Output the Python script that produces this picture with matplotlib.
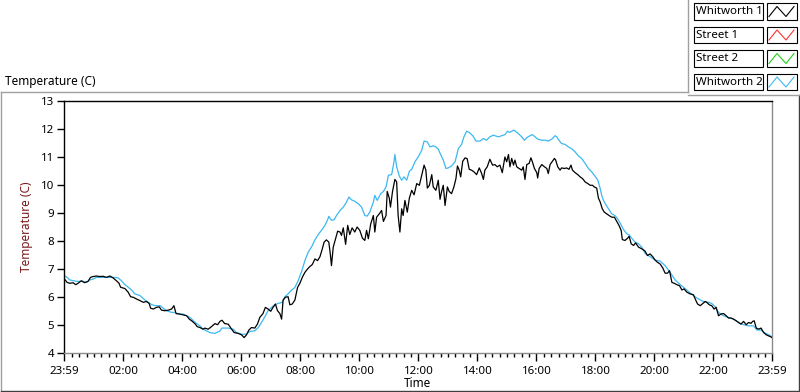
import numpy as np
import matplotlib
matplotlib.use("Agg")
import matplotlib.pyplot as plt
from matplotlib.patches import Rectangle
from matplotlib.lines import Line2D

plt.rcParams['font.family'] = ['Noto Sans', 'DejaVu Sans']

# ---------------- data ----------------
series_names = ["Whitworth 1", "Street 1", "Street 2", "Whitworth 2"]
series_colors = ["#000000", "#ff3030", "#20d020", "#3cb8f0"]

# Whitworth 1 (hours since midnight, temperature C)
w1_hours = [0.00, 0.09, 0.18, 0.29, 0.38, 0.46, 0.57, 0.68, 0.80, 0.88, 0.97, 1.08, 1.20, 1.31, 1.42,
            1.54, 1.65, 1.76, 1.85, 1.90, 2.05, 2.16, 2.24, 2.33, 2.44, 2.56, 2.67, 2.78, 2.87, 2.92,
            3.01, 3.12, 3.21, 3.29, 3.40, 3.52, 3.63, 3.71, 3.78, 3.91, 4.03, 4.14, 4.23, 4.31, 4.42,
            4.50, 4.59, 4.70, 4.76, 4.87, 4.98, 5.10, 5.19, 5.27, 5.34, 5.43, 5.55, 5.64, 5.75, 5.89,
            6.00, 6.09, 6.17, 6.25, 6.34, 6.45, 6.54, 6.62, 6.73, 6.81, 6.90, 6.99, 7.07, 7.15, 7.22,
            7.30, 7.36, 7.41, 7.49, 7.58, 7.64, 7.72, 7.81, 7.90, 7.98, 8.06, 8.15, 8.24, 8.32, 8.40,
            8.49, 8.58, 8.66, 8.74, 8.80, 8.88, 8.96, 9.01, 9.05, 9.11, 9.19, 9.26, 9.34, 9.39, 9.45,
            9.53, 9.60, 9.67, 9.75, 9.84, 9.92, 10.01, 10.10, 10.18, 10.24, 10.30, 10.38, 10.47, 10.52,
            10.58, 10.67, 10.75, 10.81, 10.90, 10.94, 11.01, 11.05, 11.12, 11.20, 11.26, 11.31, 11.37,
            11.43, 11.48, 11.54, 11.62, 11.69, 11.77, 11.85, 11.94, 12.03, 12.11, 12.19, 12.25, 12.30,
            12.37, 12.45, 12.50, 12.59, 12.67, 12.73, 12.78, 12.84, 12.90, 12.98, 13.04, 13.12, 13.20,
            13.27, 13.32, 13.38, 13.43, 13.50, 13.58, 13.65, 13.72, 13.80, 13.88, 13.97, 14.06, 14.14,
            14.20, 14.25, 14.33, 14.42, 14.51, 14.59, 14.67, 14.76, 14.84, 14.93, 14.99, 15.05, 15.10,
            15.16, 15.22, 15.27, 15.33, 15.41, 15.50, 15.55, 15.61, 15.67, 15.75, 15.81, 15.86, 15.93,
            16.01, 16.04, 16.09, 16.18, 16.27, 16.35, 16.40, 16.46, 16.54, 16.61, 16.65, 16.72, 16.80,
            16.85, 16.95, 17.02, 17.10, 17.17, 17.22, 17.31, 17.40, 17.48, 17.56, 17.65, 17.74, 17.82,
            17.90, 17.96, 18.04, 18.10, 18.16, 18.23, 18.30, 18.38, 18.46, 18.55, 18.64, 18.72, 18.80,
            18.87, 18.91, 19.00, 19.09, 19.14, 19.21, 19.29, 19.36, 19.46, 19.57, 19.68, 19.76, 19.85,
            19.94, 20.02, 20.10, 20.19, 20.28, 20.36, 20.44, 20.51, 20.59, 20.67, 20.76, 20.85, 20.93,
            21.00, 21.10, 21.21, 21.32, 21.38, 21.46, 21.55, 21.64, 21.72, 21.77, 21.86, 21.94, 22.02,
            22.09, 22.17, 22.25, 22.34, 22.43, 22.51, 22.59, 22.68, 22.77, 22.85, 22.93, 23.02, 23.11,
            23.19, 23.27, 23.33, 23.38, 23.45, 23.53, 23.61, 23.70, 23.79, 23.87, 23.94, 23.98]
w1_temp = [6.64, 6.52, 6.49, 6.51, 6.44, 6.49, 6.58, 6.51, 6.56, 6.70, 6.73, 6.75, 6.73, 6.74, 6.70,
           6.75, 6.68, 6.58, 6.49, 6.35, 6.30, 6.17, 6.01, 5.99, 5.93, 5.87, 5.81, 5.84, 5.77, 5.60,
           5.57, 5.63, 5.65, 5.53, 5.51, 5.53, 5.57, 5.69, 5.41, 5.39, 5.36, 5.33, 5.21, 5.15, 5.05,
           4.94, 4.91, 4.85, 4.89, 4.85, 4.94, 5.05, 5.01, 5.13, 5.17, 5.05, 5.03, 4.89, 4.73, 4.70,
           4.65, 4.55, 4.65, 4.82, 4.91, 4.89, 5.03, 5.27, 5.41, 5.63, 5.57, 5.49, 5.63, 5.75, 5.51,
           5.41, 5.21, 5.89, 5.99, 6.01, 5.72, 5.75, 5.89, 6.34, 6.49, 6.70, 6.88, 7.00, 7.09, 7.16,
           7.36, 7.30, 7.44, 7.72, 7.96, 8.04, 7.96, 7.54, 7.12, 7.78, 8.08, 8.35, 8.32, 8.20, 8.47,
           7.88, 8.56, 8.23, 8.47, 8.32, 8.50, 8.38, 8.10, 8.02, 8.38, 8.08, 8.61, 8.91, 8.32,
           8.85, 8.97, 9.09, 8.70, 8.91, 9.77, 9.53, 9.21, 9.77, 10.20, 10.11, 8.91, 8.32,
           9.15, 8.91, 9.45, 9.03, 9.53, 9.81, 9.65, 10.05, 9.99, 10.35, 10.71, 10.53, 9.89,
           9.99, 10.37, 9.93, 9.81, 10.17, 9.49, 9.75, 9.99, 9.27, 9.93, 9.77, 9.69, 9.93,
           10.23, 10.68, 10.53, 10.29, 10.85, 10.97, 10.94, 10.56, 10.53, 10.47, 10.37, 10.61, 10.41,
           10.20, 10.53, 10.65, 10.92, 10.71, 10.73, 10.65, 10.71, 10.44, 11.00, 10.83, 11.09, 10.65,
           10.95, 10.71, 10.89, 10.65, 10.59, 10.53, 10.65, 10.20, 10.73, 10.77, 10.97, 10.83, 10.59,
           10.44, 10.25, 10.59, 10.73, 10.65, 10.59, 10.41, 10.73, 10.85, 10.95, 10.89, 10.65, 10.53,
           10.61, 10.59, 10.61, 10.56, 10.71, 10.53, 10.44, 10.37, 10.29, 10.23, 10.11, 10.05, 9.99,
           9.99, 9.93, 9.89, 9.53, 9.39, 9.15, 9.03, 8.97, 8.91, 8.85, 8.85, 8.70, 8.55,
           8.38, 8.05, 8.02, 8.10, 8.17, 7.90, 7.84, 7.93, 7.78, 7.72, 7.64, 7.48, 7.54,
           7.44, 7.32, 7.24, 7.18, 7.04, 6.85, 6.85, 6.94, 6.52, 6.49, 6.44, 6.40, 6.25,
           6.29, 6.17, 6.11, 6.08, 5.93, 5.75, 5.69, 5.77, 5.84, 5.81, 5.72, 5.69, 5.57,
           5.63, 5.33, 5.39, 5.41, 5.33, 5.25, 5.25, 5.21, 5.15, 5.09, 5.03, 5.13, 5.01,
           5.09, 5.06, 5.13, 5.15, 4.89, 4.85, 4.89, 4.73, 4.65, 4.61, 4.58, 4.55]

# Whitworth 2
w2_hours = [0.00, 0.09, 0.18, 0.40, 0.52, 0.63, 0.74, 0.86, 0.97, 1.08, 1.31, 1.54, 1.71, 1.82, 1.93,
            2.05, 2.16, 2.27, 2.39, 2.56, 2.73, 2.84, 2.95, 3.07, 3.24, 3.35, 3.46, 3.63, 3.74, 3.86,
            4.03, 4.14, 4.25, 4.37, 4.48, 4.59, 4.70, 4.76, 4.93, 5.10, 5.27, 5.34, 5.55, 5.72, 5.83,
            6.00, 6.17, 6.28, 6.45, 6.57, 6.68, 6.79, 6.90, 7.02, 7.13, 7.24, 7.38, 7.47, 7.58, 7.70,
            7.81, 7.92, 8.04, 8.15, 8.26, 8.38, 8.49, 8.60, 8.71, 8.83, 8.92, 8.96, 9.05, 9.14, 9.22,
            9.34, 9.45, 9.56, 9.64, 9.73, 9.84, 9.96, 10.07, 10.18, 10.26, 10.35, 10.47, 10.52, 10.60,
            10.72, 10.81, 10.90, 10.98, 11.09, 11.17, 11.20, 11.26, 11.35, 11.43, 11.51, 11.60, 11.69,
            11.77, 11.88, 11.99, 12.11, 12.19, 12.30, 12.39, 12.50, 12.59, 12.67, 12.75, 12.84, 12.93,
            13.01, 13.12, 13.24, 13.35, 13.46, 13.54, 13.63, 13.72, 13.84, 13.95, 14.09, 14.20, 14.31,
            14.42, 14.54, 14.59, 14.71, 14.82, 14.93, 15.02, 15.10, 15.22, 15.29, 15.38, 15.50, 15.59,
            15.67, 15.78, 15.86, 15.95, 16.04, 16.18, 16.29, 16.40, 16.52, 16.63, 16.69, 16.76, 16.85,
            16.97, 17.08, 17.19, 17.31, 17.42, 17.53, 17.65, 17.76, 17.87, 17.98, 18.08, 18.16, 18.21,
            18.27, 18.35, 18.44, 18.55, 18.66, 18.75, 18.83, 18.95, 19.06, 19.14, 19.23, 19.34, 19.46,
            19.57, 19.68, 19.85, 20.02, 20.19, 20.36, 20.53, 20.70, 20.85, 20.98, 21.15, 21.32, 21.49,
            21.66, 21.83, 21.94, 22.06, 22.17, 22.34, 22.51, 22.68, 22.85, 23.02, 23.19, 23.36, 23.47,
            23.61, 23.72, 23.87, 23.98]
w2_temp = [6.76, 6.70, 6.61, 6.56, 6.56, 6.56, 6.52, 6.61, 6.64, 6.70, 6.70, 6.70, 6.70, 6.68, 6.58,
           6.44, 6.35, 6.25, 6.11, 6.05, 5.89, 5.81, 5.73, 5.69, 5.69, 5.60, 5.51, 5.45, 5.45, 5.39,
           5.39, 5.33, 5.27, 5.15, 5.05, 4.97, 4.85, 4.82, 4.73, 4.70, 4.79, 4.89, 4.89, 4.85, 4.73,
           4.67, 4.67, 4.77, 4.79, 4.91, 5.09, 5.29, 5.51, 5.63, 5.72, 5.77, 5.81, 6.01, 6.11, 6.25,
           6.34, 6.58, 6.92, 7.30, 7.60, 7.80, 8.04, 8.23, 8.38, 8.56, 8.76, 8.88, 8.74, 8.76, 8.91,
           9.09, 9.21, 9.39, 9.57, 9.47, 9.42, 9.33, 9.21, 8.91, 8.89, 9.03, 9.39, 9.63, 9.45,
           9.69, 9.77, 9.93, 10.35, 10.37, 10.83, 11.09, 10.65, 10.32, 10.17, 10.29, 10.17, 10.49,
           10.56, 10.83, 11.00, 11.24, 11.57, 11.54, 11.36, 11.40, 11.36, 11.28, 11.09, 10.89, 10.59,
           10.61, 10.68, 10.83, 11.30, 11.45, 11.72, 11.92, 11.88, 11.76, 11.57, 11.57, 11.66, 11.60,
           11.72, 11.78, 11.76, 11.72, 11.76, 11.80, 11.92, 11.88, 11.96, 11.92, 11.84, 11.72, 11.60,
           11.69, 11.76, 11.80, 11.72, 11.64, 11.60, 11.60, 11.57, 11.64, 11.76, 11.72, 11.60, 11.48,
           11.45, 11.36, 11.30, 11.18, 11.04, 10.95, 10.77, 10.59, 10.47, 10.32, 10.17, 9.87, 9.63,
           9.45, 9.30, 9.15, 8.97, 8.91, 8.79, 8.65, 8.41, 8.26, 8.22, 8.10, 7.96, 7.90,
           7.78, 7.56, 7.44, 7.32, 7.28, 7.12, 6.88, 6.61, 6.46, 6.35, 6.20, 6.05, 5.93,
           5.84, 5.81, 5.77, 5.65, 5.45, 5.33, 5.27, 5.21, 5.09, 5.01, 4.97, 4.97, 4.82,
           4.82, 4.73, 4.65, 4.58]

y_ticks = [4, 5, 6, 7, 8, 9, 10, 11, 12, 13]
x_tick_hours = [-1 / 60, 2, 4, 6, 8, 10, 12, 14, 16, 18, 20, 22, 23 + 59 / 60]
x_tick_labels = ["23:59", "02:00", "04:00", "06:00", "08:00", "10:00", "12:00",
                 "14:00", "16:00", "18:00", "20:00", "22:00", "23:59"]
x_minor_hours = [h / 4 for h in range(1, 96) if h % 8 != 0]

# ---------------- figure ----------------
W, H = 800, 392
fig = plt.figure(figsize=(W / 100, H / 100), dpi=100)
fig.patch.set_facecolor("white")


def fx(px):
    return px / W


def fy(py):
    return 1 - py / H


# decoration layer in pixel coordinates
deco = fig.add_axes([0, 0, 1, 1], zorder=0)
deco.set_xlim(0, W)
deco.set_ylim(H, 0)
deco.axis("off")

frame_gray = "#a0a0a0"
# chart frame
deco.plot([0.5, 688], [92, 92], color=frame_gray, lw=1)
deco.plot([0.5, 0.5], [92, 391], color=frame_gray, lw=1)
deco.plot([0.5, 798.5], [390.5, 390.5], color="#404040", lw=1)
deco.plot([798.5, 798.5], [95, 391], color="#404040", lw=1)
# legend frame
deco.plot([688, 688], [0, 92], color=frame_gray, lw=1)
deco.plot([688, 800], [95, 95], color=frame_gray, lw=1)

# legend rows
row_tops = [3, 26.5, 50, 73.5]
for name, col, top in zip(series_names, series_colors, row_tops):
    deco.add_patch(Rectangle((693.5, top), 69, 16.5, fill=True, facecolor="white",
                             edgecolor="black", lw=0.8))
    deco.text(696.5, top + 8.5, name, fontsize=8.3, va="center", ha="left")
    deco.add_patch(Rectangle((766.5, top), 30, 16.5, fill=True, facecolor="white",
                             edgecolor="black", lw=0.8))
    deco.add_line(Line2D([769, 777, 786, 794], [top + 13.5, top + 3.5, top + 13.5, top + 3.5],
                         color=col, lw=0.8))

fig.text(fx(5), fy(81), "Temperature (C)", fontsize=8.5, ha="left", va="center")

# plot area
ax = fig.add_axes([fx(64), fy(353), fx(772) - fx(64), fy(101) - fy(353)], zorder=2)
ax.plot(w2_hours, w2_temp, color=series_colors[3], lw=0.9)
ax.plot(w1_hours, w1_temp, color=series_colors[0], lw=0.9)

ax.set_xlim(-1 / 60, 23 + 59 / 60)
ax.set_ylim(4, 13)
ax.set_yticks(y_ticks)
ax.set_xticks(x_tick_hours)
ax.set_xticklabels(x_tick_labels)
ax.set_xticks(x_minor_hours, minor=True)

ax.tick_params(axis="both", which="major", labelsize=8.3, direction="out", color="black", width=1)
ax.tick_params(axis="x", which="major", length=6, pad=3)
ax.tick_params(axis="x", which="minor", length=3, width=1, color="black")
ax.tick_params(axis="y", which="major", length=5, pad=2)

ax.spines["top"].set_color("black")
ax.spines["left"].set_color("black")
ax.spines["right"].set_color("#8a8a8a")
ax.spines["bottom"].set_color("#8a8a8a")
for s in ax.spines.values():
    s.set_linewidth(1.0)

ax.set_ylabel("Temperature (C)", fontsize=8.5, color="#7a1a1a")
ax.yaxis.set_label_coords(-0.044, 0.5)
ax.set_xlabel("Time", fontsize=8.5)
ax.xaxis.set_label_coords(0.5, -0.123)
ax.xaxis.label.set_va("center")

fig.savefig("out.png", dpi=100, facecolor="white")
